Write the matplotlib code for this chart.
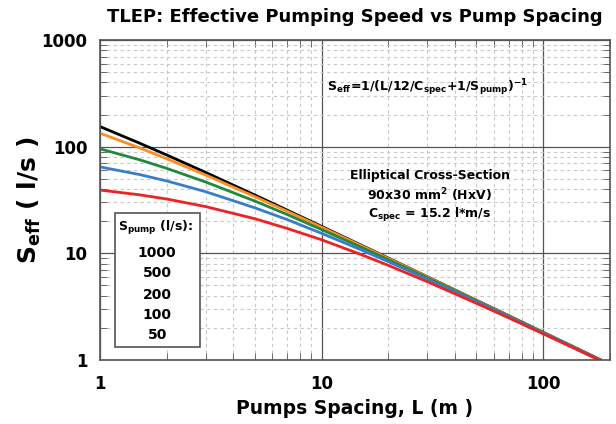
import numpy as np
import matplotlib
matplotlib.use("Agg")
import matplotlib.pyplot as plt
from matplotlib.ticker import NullFormatter, FixedLocator, FixedFormatter

plt.rcParams['font.family'] = ['DejaVu Sans']
plt.rcParams['mathtext.fontset'] = 'dejavusans'
plt.rcParams['mathtext.default'] = 'bf'

# pump spacing L (m)
L = [1, 1.5, 2, 3, 5, 7, 10, 15, 20, 30, 50, 70, 100, 150, 182]

# effective pumping speed (l/s)
s_1000 = [154.3, 108.4, 83.6, 57.3, 35.2, 25.4, 17.9, 12.0, 9.04, 6.04, 3.63, 2.60, 1.82, 1.215, 1.001]
s_500 = [133.7, 97.8, 77.1, 54.2, 34.0, 24.8, 17.6, 11.87, 8.96, 6.01, 3.62, 2.59, 1.817, 1.213, 1.000]
s_200 = [95.4, 75.6, 62.6, 46.6, 30.9, 23.1, 16.7, 11.46, 8.72, 5.90, 3.58, 2.57, 1.807, 1.209, 0.997]
s_100 = [64.6, 54.9, 47.7, 37.8, 26.7, 20.7, 15.4, 10.84, 8.36, 5.73, 3.52, 2.54, 1.791, 1.201, 0.992]
s_50 = [39.2, 35.4, 32.3, 27.4, 21.1, 17.1, 13.4, 9.78, 7.71, 5.42, 3.40, 2.48, 1.760, 1.187, 0.982]

pump_labels = ["1000", "500", "200", "100", "50"]

fig = plt.figure(figsize=(6.16, 4.24), dpi=100)
ax = fig.add_axes([0.1623, 0.151, 0.8277, 0.7547])

# grille
ax.set_xscale('log')
ax.set_yscale('log')
ax.set_xlim(1, 200)
ax.set_ylim(1, 1000)
ax.grid(True, which='major', color='#555555', lw=0.9, ls='-')
ax.grid(True, which='minor', color='#c8c8c8', lw=0.8, ls=(0, (3, 3)))
ax.set_axisbelow(True)

# courbes
ax.plot(L, s_1000, color='black', lw=2)
ax.plot(L, s_500, color='#ff8c1e', lw=2)
ax.plot(L, s_200, color='#1f8a3c', lw=2)
ax.plot(L, s_100, color='#3a7ccc', lw=2)
ax.plot(L, s_50, color='#ee2222', lw=2)

for sp in ax.spines.values():
    sp.set_color('#555555')
    sp.set_linewidth(1.2)

ax.tick_params(which='both', direction='in', top=True, right=True, colors='#555555',
               labelcolor='black')
ax.tick_params(which='major', length=0)
ax.tick_params(which='minor', length=5)
ax.xaxis.set_major_locator(FixedLocator([1, 10, 100]))
ax.xaxis.set_major_formatter(FixedFormatter(["1", "10", "100"]))
ax.yaxis.set_major_locator(FixedLocator([1, 10, 100, 1000]))
ax.yaxis.set_major_formatter(FixedFormatter(["1", "10", "100", "1000"]))
ax.xaxis.set_minor_formatter(NullFormatter())
ax.yaxis.set_minor_formatter(NullFormatter())
ax.tick_params(axis='x', pad=11, labelsize=12)
ax.tick_params(axis='y', pad=9, labelsize=12)
for t in ax.get_xticklabels() + ax.get_yticklabels():
    t.set_fontweight('bold')

ax.set_title("TLEP: Effective Pumping Speed vs Pump Spacing", fontsize=13,
             fontweight='bold', pad=13)
ax.set_xlabel("Pumps Spacing, L (m )", fontsize=13.5, fontweight='bold', labelpad=4)
ax.set_ylabel(r"$S_{eff}$ ( l/s )", fontsize=18, fontweight='bold')
ax.yaxis.set_label_coords(-0.112, 0.5)

# annotations
fs = 9
ax.text(0.643, 0.85, r"$S_{eff}$=1/(L/12/$C_{spec}$+1/$S_{pump}$)$^{-1}$",
        transform=ax.transAxes, ha='center', va='center', fontsize=fs, fontweight='bold')
ax.text(0.647, 0.578, "Elliptical Cross-Section", transform=ax.transAxes,
        ha='center', va='center', fontsize=fs, fontweight='bold')
ax.text(0.647, 0.516, r"90x30 mm$^{2}$ (HxV)", transform=ax.transAxes,
        ha='center', va='center', fontsize=fs, fontweight='bold')
ax.text(0.647, 0.453, r"$C_{spec}$ = 15.2 l*m/s", transform=ax.transAxes,
        ha='center', va='center', fontsize=fs, fontweight='bold')

# boite legende
box = plt.Rectangle((0.029, 0.041), 0.167, 0.418, transform=ax.transAxes,
                    facecolor='white', edgecolor='#555555', lw=1.2, zorder=5)
ax.add_patch(box)
ax.text(0.035, 0.412, r"$S_{pump}$ (l/s):", transform=ax.transAxes,
        ha='left', va='center', fontsize=9, fontweight='bold', zorder=6)
ys = [0.334, 0.272, 0.203, 0.141, 0.078]
for lab, y in zip(pump_labels, ys):
    ax.text(0.112, y, lab, transform=ax.transAxes, ha='center', va='center',
            fontsize=10, fontweight='bold', zorder=6)

fig.savefig("out.png", dpi=100)
